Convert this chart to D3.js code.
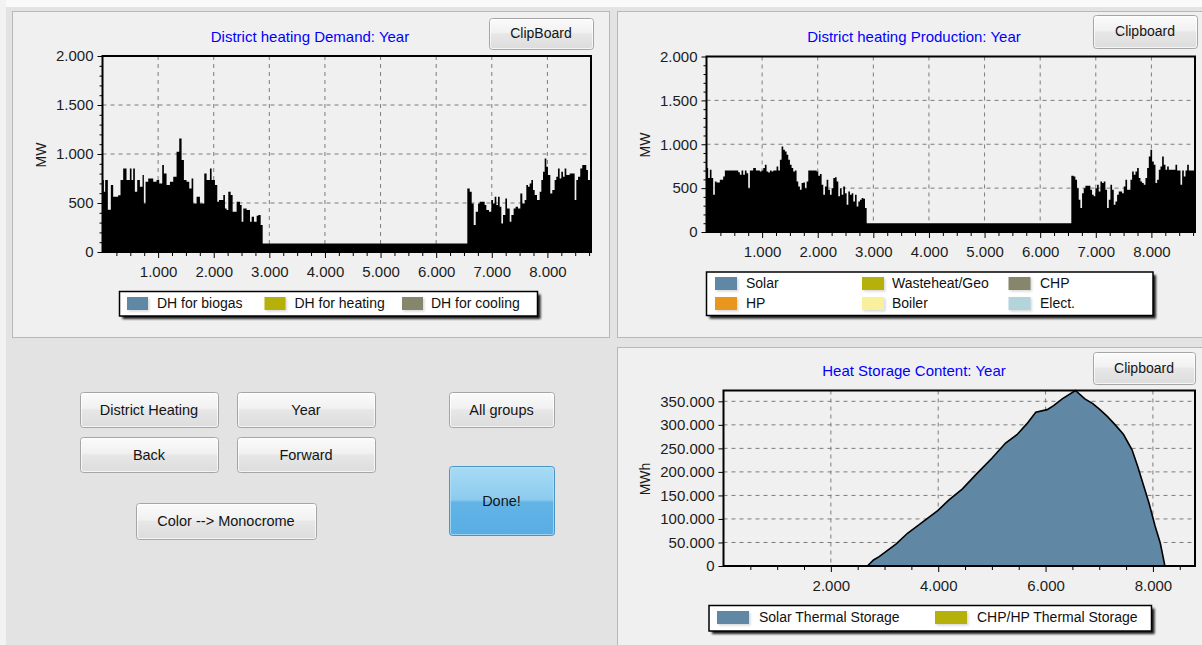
<!DOCTYPE html>
<html><head><meta charset="utf-8">
<script src="https://cdn.jsdelivr.net/npm/d3@7"></script>
<style>
html,body{margin:0;padding:0;background:#e3e3e3;overflow:hidden;}
svg{display:block;font-family:"Liberation Sans",Arial,sans-serif;}
</style></head><body>
<svg id="c" width="1202" height="645"></svg>
<script>
// ---------------- DATA ----------------
const hoursInYear = 8784;
const mwTicks = [0, 500, 1000, 1500, 2000];
const hourTicks = [1000, 2000, 3000, 4000, 5000, 6000, 7000, 8000];
const storageHourTicks = [2000, 4000, 6000, 8000];
const storageTicks = [0, 50000, 100000, 150000, 200000, 250000, 300000, 350000];

const titles = ["District heating Demand: Year", "District heating Production: Year", "Heat Storage Content: Year"];

// [start hour, MW] – step values
const demandSteps = [
[0,735],[24,615],[48,735],[96,430],[150,683],[192,565],[282,580],[324,735],[372,853],[432,735],[492,853],[522,735],[552,853],[582,615],[624,735],[672,666],[720,785],[744,496],[774,717],[822,751],[912,717],[972,735],[1020,700],[1074,887],[1104,802],[1152,683],[1212,717],[1272,768],[1332,1023],[1380,1159],[1422,938],[1464,735],[1512,717],[1560,649],[1602,751],[1632,496],[1692,564],[1752,496],[1830,802],[1872,735],[1932,853],[1962,735],[2022,683],[2064,513],[2094,530],[2172,581],[2202,445],[2232,428],[2262,615],[2304,581],[2340,411],[2412,513],[2472,479],[2502,309],[2532,445],[2592,428],[2652,309],[2682,360],[2724,309],[2772,370],[2802,377],[2844,275],[2880,88],
[6560,649],[6603,615],[6639,496],[6675,275],[6711,411],[6753,496],[6783,513],[6872,479],[6902,428],[6950,411],[6992,530],[7022,496],[7052,564],[7082,479],[7112,564],[7142,462],[7172,292],[7202,377],[7244,547],[7274,445],[7322,309],[7352,377],[7393,445],[7429,462],[7471,445],[7513,598],[7549,496],[7591,530],[7621,683],[7651,666],[7681,700],[7711,734],[7741,632],[7771,581],[7813,530],[7861,615],[7891,734],[7921,819],[7951,955],[7981,870],[8010,785],[8052,598],[8088,632],[8130,734],[8160,768],[8190,853],[8220,751],[8250,819],[8280,768],[8310,853],[8340,785],[8400,800],[8490,530],[8520,734],[8550,768],[8591,853],[8627,887],[8699,836],[8729,734]
];

const productionSteps = [
[0,728],[30,614],[60,709],[90,614],[120,425],[150,576],[180,565],[240,595],[300,633],[330,701],[570,680],[600,652],[630,701],[660,652],[690,701],[720,670],[750,500],[780,701],[840,728],[888,701],[960,690],[990,701],[1020,728],[1050,765],[1080,690],[1110,678],[1140,701],[1170,690],[1200,701],[1260,747],[1290,701],[1320,822],[1350,974],[1380,936],[1410,917],[1440,879],[1470,822],[1500,765],[1530,728],[1560,690],[1590,701],[1620,576],[1650,519],[1680,481],[1710,557],[1740,565],[1770,500],[1800,576],[1830,701],[1980,690],[2010,640],[2040,660],[2070,538],[2100,425],[2130,519],[2160,595],[2190,481],[2220,425],[2250,500],[2280,614],[2310,625],[2340,576],[2370,406],[2400,500],[2430,425],[2460,519],[2490,443],[2520,311],[2550,462],[2580,425],[2610,443],[2640,349],[2670,425],[2700,292],[2730,349],[2760,368],[2790,387],[2820,380],[2850,273],[2880,100],
[6560,640],[6603,633],[6633,595],[6663,500],[6693,368],[6723,273],[6753,443],[6783,500],[6813,527],[6903,481],[6933,425],[6963,406],[6993,500],[7023,538],[7053,462],[7083,576],[7113,557],[7143,576],[7173,481],[7203,273],[7233,368],[7263,538],[7293,481],[7323,311],[7353,349],[7383,425],[7413,462],[7473,443],[7503,519],[7533,595],[7563,481],[7623,595],[7653,690],[7683,652],[7713,690],[7743,728],[7773,614],[7803,576],[7833,557],[7863,538],[7893,614],[7923,728],[7953,860],[7983,936],[8013,803],[8043,765],[8073,557],[8103,595],[8133,709],[8163,747],[8193,860],[8223,765],[8253,709],[8283,747],[8313,709],[8433,765],[8463,701],[8523,538],[8553,701],[8583,633],[8613,701],[8643,765],[8673,701]
];

// [hour, MWh]
const storageCurve = [
[0,0],[2680,0],[2795,12800],[2900,20000],[3218,46900],[3428,69600],[3639,87300],[3991,117800],[4201,140600],[4447,163300],[4728,197400],[5000,229000],[5255,261300],[5467,279100],[5650,302000],[5818,326700],[6030,332300],[6150,341000],[6310,355100],[6557,373000],[6732,355100],[6880,345000],[7013,332300],[7150,318000],[7294,300400],[7450,280000],[7611,247100],[7717,211600],[7928,133500],[8040,85000],[8138,48300],[8223,0],[8784,0]
];

const demandLegend = ["DH for biogas", "DH for heating", "DH for cooling"];
const demandLegendColors = ["#6088a4", "#b5b00a", "#86866c"];
const productionLegend = ["Solar", "Wasteheat/Geo", "CHP", "HP", "Boiler", "Elect."];
const productionLegendColors = ["#6088a4", "#b5b00a", "#86866c", "#e8961e", "#f8f09c", "#b4d4dc"];
const storageLegend = ["Solar Thermal Storage", "CHP/HP Thermal Storage"];
const storageLegendColors = ["#6088a4", "#b5b00a"];

const buttonLabels = ["District Heating", "Year", "Back", "Forward", "Color --> Monocrome", "All groups", "Done!"];

// ---------------- DRAWING ----------------
const FONT = '"Liberation Sans", Arial, sans-serif';
const svg = d3.select("#c");
const loc = d3.formatLocale({decimal: ",", thousands: ".", grouping: [3], currency: ["", ""]});
const fmt = loc.format(",d");

const defs = svg.append("defs");
function grad(id, stops) {
  const g = defs.append("linearGradient").attr("id", id).attr("x1", 0).attr("x2", 0).attr("y1", 0).attr("y2", 1);
  stops.forEach(s => g.append("stop").attr("offset", s[0]).attr("stop-color", s[1]));
}
grad("gw", [[0, "#fbfbfb"], [0.45, "#f1f1f1"], [0.5, "#e7e7e7"], [1, "#dcdcdc"]]);
grad("gb", [[0, "#a8dbf5"], [0.48, "#8ccbee"], [0.52, "#63b4e6"], [1, "#58ade3"]]);
defs.append("filter").attr("id", "blur").attr("x", "-10%").attr("y", "-30%").attr("width", "130%").attr("height", "170%")
  .append("feGaussianBlur").attr("stdDeviation", 1.3);

svg.append("rect").attr("width", 1202).attr("height", 645).attr("fill", "#e3e3e3");
svg.append("rect").attr("width", 1202).attr("height", 7).attr("fill", "#fafafa");
svg.append("rect").attr("x", 0).attr("y", 0).attr("width", 6).attr("height", 645).attr("fill", "#f2f2f2");

function panel(x, y, w, h) {
  svg.append("rect").attr("x", x + 0.5).attr("y", y + 0.5).attr("width", w).attr("height", h)
    .attr("fill", "#f0f0f0").attr("stroke", "#b8b8b8");
}
panel(12, 11, 597, 326);
panel(617, 11, 600, 326);
panel(617, 347, 600, 310);

function title(txt, cx, cy) {
  svg.append("text").attr("x", cx).attr("y", cy).attr("dy", "0.35em").attr("text-anchor", "middle")
    .attr("font-size", 15).attr("fill", "#0000ff").text(txt);
}

function chart(o) {
  const x = d3.scaleLinear().domain([0, hoursInYear]).range([o.l, o.r]);
  const y = d3.scaleLinear().domain([0, o.ymax]).range([o.b, o.t]);
  const g = svg.append("g");
  // gridlines
  g.selectAll(null).data(o.xt).join("line")
    .attr("x1", d => x(d)).attr("x2", d => x(d)).attr("y1", o.t).attr("y2", o.b)
    .attr("stroke", "#7c7c7c").attr("stroke-dasharray", "4,4");
  g.selectAll(null).data(o.yt.filter(d => d > 0 && y(d) > o.t + 2)).join("line")
    .attr("x1", o.l).attr("x2", o.r).attr("y1", d => y(d)).attr("y2", d => y(d))
    .attr("stroke", "#7c7c7c").attr("stroke-dasharray", "4,4");
  // data
  if (o.type === "step") {
    const pts = o.data.concat([[hoursInYear, o.data[o.data.length - 1][1]]]);
    const area = d3.area().x(d => x(d[0])).y0(o.b).y1(d => y(d[1])).curve(d3.curveStepAfter);
    g.append("path").attr("d", area(pts)).attr("fill", "#000");
  } else {
    const area = d3.area().x(d => x(d[0])).y0(o.b).y1(d => y(d[1]));
    const line = d3.line().x(d => x(d[0])).y(d => y(d[1]));
    g.append("path").attr("d", area(o.data)).attr("fill", "#6088a4");
    g.append("path").attr("d", line(o.data)).attr("fill", "none").attr("stroke", "#000").attr("stroke-width", 1.6);
  }
  // minor ticks
  const xm = d3.range(o.xMinor, hoursInYear, o.xMinor).filter(v => !o.xt.includes(v));
  g.append("g").attr("transform", `translate(0,${o.b})`)
    .call(d3.axisBottom(x).tickValues(xm).tickSize(4).tickFormat(""))
    .call(s => { s.select(".domain").remove(); s.selectAll("line").attr("stroke", "#000"); });
  if (o.yMinor) {
    const ym = d3.range(o.yMinor, o.ymax, o.yMinor).filter(v => !o.yt.includes(v));
    g.append("g").attr("transform", `translate(${o.l},0)`)
      .call(d3.axisLeft(y).tickValues(ym).tickSize(3).tickFormat(""))
      .call(s => { s.select(".domain").remove(); s.selectAll("line").attr("stroke", "#000"); });
  }
  // major axes
  g.append("g").attr("transform", `translate(0,${o.b})`)
    .call(d3.axisBottom(x).tickValues(o.xt).tickSize(6).tickPadding(8).tickFormat(fmt))
    .call(s => {
      s.select(".domain").remove();
      s.attr("font-size", 15).attr("font-family", FONT);
      s.selectAll("line").attr("stroke", "#000");
      s.selectAll("text").attr("fill", "#1c1c1c");
    });
  g.append("g").attr("transform", `translate(${o.l},0)`)
    .call(d3.axisLeft(y).tickValues(o.yt).tickSize(5).tickPadding(4).tickFormat(fmt))
    .call(s => {
      s.select(".domain").remove();
      s.attr("font-size", 15).attr("font-family", FONT);
      s.selectAll("line").attr("stroke", "#000");
      s.selectAll("text").attr("fill", "#1c1c1c");
    });
  // frame
  g.append("rect").attr("x", o.l).attr("y", o.t).attr("width", o.r - o.l).attr("height", o.b - o.t)
    .attr("fill", "none").attr("stroke", "#000").attr("stroke-width", 2);
  // axis label
  g.append("text").attr("transform", `translate(${o.lx},${o.ly}) rotate(-90)`)
    .attr("text-anchor", "middle").attr("dy", "0.35em").attr("font-size", 14).attr("fill", "#1c1c1c").text(o.label);
}

function legend(box, labels, colors, pos) {
  const g = svg.append("g");
  g.append("rect").attr("x", box[0] + 3).attr("y", box[1] + 3).attr("width", box[2]).attr("height", box[3])
    .attr("fill", "#1a1a1a").attr("filter", "url(#blur)");
  g.append("rect").attr("x", box[0]).attr("y", box[1]).attr("width", box[2]).attr("height", box[3])
    .attr("fill", "#fff").attr("stroke", "#000").attr("stroke-width", 1.5);
  labels.forEach((lab, i) => {
    const p = pos[i];
    g.append("rect").attr("x", p[0] + 1.5).attr("y", p[1] - 5).attr("width", p[2]).attr("height", 13)
      .attr("fill", "#d8d8d8").attr("filter", "url(#blur)");
    g.append("rect").attr("x", p[0]).attr("y", p[1] - 6.5).attr("width", p[2]).attr("height", 13).attr("fill", colors[i]);
    g.append("text").attr("x", p[3]).attr("y", p[1]).attr("dy", "0.35em").attr("font-size", 14).attr("fill", "#111").text(lab);
  });
}

function button(x, y, w, h, label, blue, fs) {
  const g = svg.append("g");
  g.append("rect").attr("x", x + 0.5).attr("y", y + 0.5).attr("width", w).attr("height", h).attr("rx", 3)
    .attr("fill", blue ? "url(#gb)" : "url(#gw)").attr("stroke", blue ? "#4a95c6" : "#a5a5a5");
  g.append("rect").attr("x", x + 1.5).attr("y", y + 1.5).attr("width", w - 2).attr("height", h - 2).attr("rx", 2)
    .attr("fill", "none").attr("stroke", blue ? "#b9e3f8" : "#ffffff").attr("stroke-opacity", 0.7);
  g.append("text").attr("x", x + w / 2).attr("y", y + h / 2).attr("dy", "0.35em").attr("text-anchor", "middle")
    .attr("font-size", fs).attr("fill", "#141414").text(label);
}

// Top-left: demand
title(titles[0], 310, 37);
chart({type: "step", data: demandSteps, l: 102.5, r: 591, t: 56, b: 252, ymax: 2000,
  xt: hourTicks, yt: mwTicks, xMinor: 250, yMinor: 100, label: "MW", lx: 41, ly: 155});
legend([119.5, 291.5, 418, 24.5], demandLegend, demandLegendColors,
  [[127, 303.5, 21, 157], [264.5, 303.5, 21, 294.5], [402, 303.5, 21, 431]]);
button(489, 18, 104, 31, "ClipBoard", false, 14);

// Top-right: production
title(titles[1], 914, 37);
chart({type: "step", data: productionSteps, l: 706.5, r: 1195, t: 56.5, b: 232, ymax: 2000,
  xt: hourTicks, yt: mwTicks, xMinor: 250, yMinor: 100, label: "MW", lx: 645, ly: 145});
legend([706.5, 272, 446.5, 43.5], productionLegend, productionLegendColors,
  [[715, 283.5, 22, 746], [862, 283.5, 22, 892], [1008.5, 283.5, 22, 1040],
   [715, 303.5, 22, 746], [862, 303.5, 22, 892], [1008.5, 303.5, 22, 1040]]);
button(1093, 15, 104, 33, "Clipboard", false, 14);

// Bottom-right: storage
title(titles[2], 914, 371);
chart({type: "area", data: storageCurve, l: 723.5, r: 1195, t: 390.5, b: 566,
  ymax: d3.max(storageCurve, d => d[1]),
  xt: storageHourTicks, yt: storageTicks, xMinor: 500, yMinor: 0, label: "MWh", lx: 645, ly: 479});
legend([709, 605.5, 442.5, 25.5], storageLegend, storageLegendColors,
  [[717, 617.5, 32, 759], [935, 617.5, 32, 977]]);
button(1093, 352, 102, 32, "Clipboard", false, 14);

// Bottom-left buttons
button(80, 392, 138, 35, buttonLabels[0], false, 14.5);
button(237, 392, 138, 35, buttonLabels[1], false, 14.5);
button(80, 437, 138, 35, buttonLabels[2], false, 14.5);
button(237, 437, 138, 35, buttonLabels[3], false, 14.5);
button(136, 503, 180, 36, buttonLabels[4], false, 14.5);
button(449, 392, 105, 35, buttonLabels[5], false, 14.5);
button(449, 466, 105, 69, buttonLabels[6], true, 14.5);
</script>
</body></html>
